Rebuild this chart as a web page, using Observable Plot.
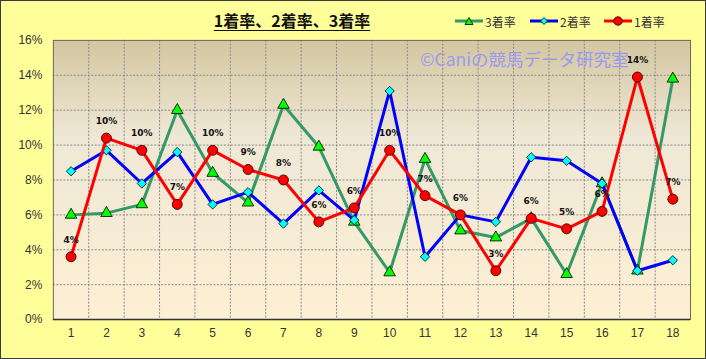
<!DOCTYPE html>
<html><head><meta charset="utf-8">
<script src="https://cdn.jsdelivr.net/npm/d3@7"></script>
<script src="https://cdn.jsdelivr.net/npm/@observablehq/plot@0.6"></script>
<style>
html,body{margin:0;padding:0;background:#fff;}
#chart{position:relative;width:706px;height:359px;background:#FFFF99;box-sizing:border-box;border:1px solid #3a3a3a;overflow:hidden;font-family:"Noto Sans CJK JP",sans-serif;}
#chart > svg{position:absolute;left:-1px;top:-1px;}
#title{position:absolute;left:191px;top:9px;width:200px;text-align:center;font-weight:bold;font-size:16px;line-height:20px;text-decoration:underline;text-underline-offset:3px;color:#111;}
.leg{position:absolute;top:12px;height:16px;display:flex;align-items:center;font-size:12px;color:#333;}
.leg svg{margin-right:1px;}
#wm{position:absolute;left:419px;top:46px;font-size:17.5px;line-height:24px;color:#9b9bee;white-space:nowrap;}
</style></head>
<body>
<div id="chart">
  <div id="title">1着率、2着率、3着率</div>
</div>
<script>
const categories = [1,2,3,4,5,6,7,8,9,10,11,12,13,14,15,16,17,18];
const rate1 = [3.6,10.4,9.7,6.6,9.7,8.6,8.0,5.6,6.4,9.7,7.1,6.0,2.8,5.8,5.2,6.2,13.9,6.9];
const rate2 = [8.5,9.7,7.8,9.6,6.6,7.3,5.5,7.4,5.7,13.1,3.6,6.0,5.6,9.3,9.1,7.8,2.8,3.4];
const rate3 = [6.0,6.1,6.6,12.0,8.4,6.7,12.3,9.9,5.6,2.7,9.2,5.1,4.7,5.8,2.6,7.8,2.8,13.8];
const yTicks = [0,2,4,6,8,10,12,14,16];
const seriesNames = ["3着率","2着率","1着率"];
const titleText = "1着率、2着率、3着率";
const watermark = "©Caniの競馬データ研究室";

const rows = categories.map((c,i)=>({c, r1:rate1[i], r2:rate2[i], r3:rate3[i]}));
const bounds = d3.range(1.5, 18, 1);
const gridY = yTicks.filter(t=>t>0 && t<16);

const GREEN="#339966", BLUE="#0000ff", RED="#ff0000";
const axisFont = '"Liberation Sans Narrow","Liberation Sans",sans-serif';

const plot = Plot.plot({
  width:706, height:359,
  marginLeft:53, marginRight:14, marginTop:40, marginBottom:39,
  style:{background:"transparent", fontFamily:axisFont, fontSize:"12px", color:"#333"},
  x:{type:"linear", domain:[0.5,18.5], label:null},
  y:{type:"linear", domain:[0,16], label:null},
  marks:[
    Plot.frame({fill:"url(#bgGrad)"}),
    Plot.ruleY(gridY, {stroke:"#8a8a8a", strokeDasharray:"2,1.5", strokeWidth:1}),
    Plot.ruleX(bounds, {stroke:"#8a8a8a", strokeDasharray:"2,1.5", strokeWidth:1}),
    Plot.frame({stroke:"#666", strokeWidth:1}),
    Plot.ruleY([0], {stroke:"#333", strokeWidth:1.5}),
    Plot.axisX(categories, {label:null, tickSize:0, tickPadding:9, fontSize:12, fontFamily:axisFont, fill:"#333"}),
    Plot.axisY(yTicks, {label:null, tickSize:0, tickPadding:11, tickFormat:d=>d+"%", fontSize:12, fontFamily:axisFont, fill:"#333"}),
    Plot.line(rows, {x:"c", y:"r3", stroke:GREEN, strokeWidth:3}),
    Plot.dot(rows, {x:"c", y:"r3", symbol:"triangle", r:4.3, fill:"#00ff00", stroke:"#000", strokeWidth:0.8}),
    Plot.line(rows, {x:"c", y:"r2", stroke:BLUE, strokeWidth:3}),
    Plot.dot(rows, {x:"c", y:"r2", symbol:"diamond2", r:4.2, fill:"#00ffff", stroke:"#000", strokeWidth:0.8}),
    Plot.line(rows, {x:"c", y:"r1", stroke:RED, strokeWidth:3}),
    Plot.dot(rows, {x:"c", y:"r1", symbol:"circle", r:5, fill:RED, stroke:"#3a0000", strokeWidth:0.9}),
    Plot.text(rows, {x:"c", y:"r1", text:d=>Math.round(d.r1)+"%", dy:-17, fontSize:9, fontWeight:"bold", fill:"#111", fontFamily:'"DejaVu Sans",sans-serif'})
  ]
});

const svg = d3.select(plot);
const defs = svg.insert("defs", ":first-child");
const g = defs.append("linearGradient").attr("id","bgGrad").attr("x1",0).attr("y1",0).attr("x2",0).attr("y2",1);
g.append("stop").attr("offset","0%").attr("stop-color","#d3c6a0");
g.append("stop").attr("offset","35%").attr("stop-color","#efe8d6");
g.append("stop").attr("offset","100%").attr("stop-color","#fdefd3");

const chart = document.getElementById("chart");
chart.appendChild(plot);

const wm = document.createElement("div");
wm.id = "wm"; wm.textContent = watermark;
chart.appendChild(wm);

const legItems = [
  {name:seriesNames[0], color:GREEN, sym:"tri", fill:"#00ff00", left:455},
  {name:seriesNames[1], color:BLUE, sym:"dia", fill:"#00ffff", left:530},
  {name:seriesNames[2], color:RED, sym:"cir", fill:RED, left:604}
];
for (const it of legItems) {
  const d = document.createElement("div");
  d.className = "leg"; d.style.left = (it.left-1)+"px";
  let shape;
  if (it.sym==="tri") shape = `<path d="M14,2.5 L18,9.5 L10,9.5 Z" fill="${it.fill}" stroke="#000" stroke-width="0.8"/>`;
  else if (it.sym==="dia") shape = `<path d="M14,2.5 L17.5,6 L14,9.5 L10.5,6 Z" fill="${it.fill}" stroke="#000" stroke-width="0.8"/>`;
  else shape = `<circle cx="14" cy="6" r="4.2" fill="${it.fill}" stroke="#3a0000" stroke-width="0.9"/>`;
  d.innerHTML = `<svg width="29" height="12"><line x1="0" x2="28" y1="6" y2="6" stroke="${it.color}" stroke-width="3"/>${shape}</svg><span>${it.name}</span>`;
  chart.appendChild(d);
}
</script>
</body></html>
